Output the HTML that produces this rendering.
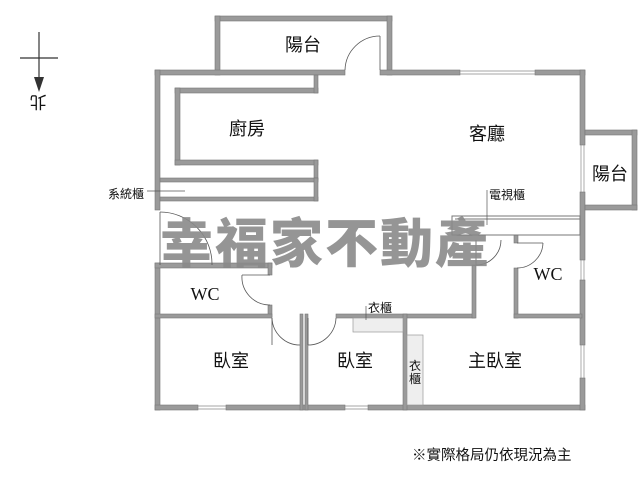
<!DOCTYPE html>
<html><head><meta charset="utf-8"><style>
html,body{margin:0;padding:0;background:#fff;width:640px;height:480px;overflow:hidden}
svg{display:block}
text{font-family:"Liberation Serif","Noto Sans CJK TC",sans-serif;fill:#111}
</style></head><body>
<svg width="640" height="480" viewBox="0 0 640 480" xmlns="http://www.w3.org/2000/svg">
<g fill="#9a9a9a" stroke="#777" stroke-width="0.6">
<rect x="215" y="16" width="177" height="5"/>
<rect x="215" y="16" width="5" height="59"/>
<rect x="387" y="16" width="5" height="59"/>
<rect x="155" y="70" width="190" height="5"/>
<rect x="380" y="70" width="80" height="5"/>
<rect x="535" y="70" width="50" height="5"/>
<rect x="155" y="70" width="5" height="140"/>
<rect x="155" y="263" width="5" height="147"/>
<rect x="155" y="405" width="43" height="5"/>
<rect x="226" y="405" width="119" height="5"/>
<rect x="368" y="405" width="217" height="5"/>
<rect x="580" y="70" width="5" height="75"/>
<rect x="580" y="192" width="5" height="68"/>
<rect x="580" y="280" width="5" height="65"/>
<rect x="580" y="378" width="5" height="32"/>
<rect x="585" y="130" width="52" height="5"/>
<rect x="632" y="130" width="5" height="80"/>
<rect x="585" y="205" width="52" height="5"/>
<rect x="175" y="88" width="143" height="5"/>
<rect x="175" y="88" width="5" height="77"/>
<rect x="175" y="160" width="143" height="5"/>
<rect x="314" y="75" width="4" height="18"/>
<rect x="314" y="160" width="4" height="20"/>
<rect x="160" y="178" width="158" height="4"/>
<rect x="160" y="197" width="158" height="4"/>
<rect x="314" y="178" width="4" height="23"/>
<rect x="155" y="263" width="117" height="5"/>
<rect x="268" y="263" width="4" height="12"/>
<rect x="268" y="305" width="4" height="12"/>
<rect x="155" y="314" width="117" height="4"/>
<rect x="300" y="314" width="3" height="96"/>
<rect x="305" y="314" width="3" height="96"/>
<rect x="336" y="314" width="139" height="4"/>
<rect x="403" y="314" width="4" height="96"/>
<rect x="472" y="265" width="4" height="53"/>
<rect x="514" y="235" width="4" height="8"/>
<rect x="514" y="268" width="4" height="50"/>
<rect x="514" y="314" width="68" height="4"/>
</g>
<g stroke="#888" stroke-width="0.7" fill="none">
<line x1="460" y1="71" x2="535" y2="71"/><line x1="460" y1="74" x2="535" y2="74"/>
<line x1="581" y1="145" x2="581" y2="192"/><line x1="584" y1="145" x2="584" y2="192"/>
<line x1="581" y1="260" x2="581" y2="280"/><line x1="584" y1="260" x2="584" y2="280"/>
<line x1="581" y1="345" x2="581" y2="378"/><line x1="584" y1="345" x2="584" y2="378"/>
<line x1="198" y1="406" x2="226" y2="406"/><line x1="198" y1="409" x2="226" y2="409"/>
<line x1="345" y1="406" x2="368" y2="406"/><line x1="345" y1="409" x2="368" y2="409"/>
</g>
<rect x="353" y="318" width="50" height="14" fill="#eee" stroke="#999" stroke-width="0.7"/>
<rect x="407" y="335" width="16" height="70" fill="#eee" stroke="#999" stroke-width="0.7"/>
<rect x="452" y="216" width="128" height="19" fill="none" stroke="#777" stroke-width="1"/>
<line x1="455" y1="219" x2="580" y2="219" stroke="#777" stroke-width="1"/>
<g stroke="#555" stroke-width="0.8" fill="none">
<line x1="380" y1="36" x2="380" y2="70"/><path d="M380 36 A35 35 0 0 0 345 70"/>
<line x1="160" y1="212" x2="160" y2="265"/><path d="M160 212 A52 52 0 0 1 212 265" />
<line x1="270" y1="275" x2="242" y2="275"/><path d="M242 275 A28 28 0 0 0 270 305"/>
<line x1="272" y1="318" x2="272" y2="345"/><path d="M272 318 A28 28 0 0 0 300 345"/>
<line x1="308" y1="345" x2="308" y2="318"/><path d="M308 345 A28 28 0 0 0 336 318"/>
<line x1="476" y1="265" x2="476" y2="240"/><path d="M476 265 A25 25 0 0 0 501 240"/>
<line x1="517" y1="243" x2="543" y2="243"/><path d="M543 243 A26 26 0 0 1 517 268"/>
</g>
<g stroke="#555" stroke-width="0.7">
<line x1="147" y1="191" x2="185" y2="191"/>
<line x1="487" y1="190" x2="487" y2="225"/>
<line x1="366" y1="306" x2="366" y2="320"/>
</g>
<text x="160" y="262" font-weight="900" font-size="53" style="fill:#8a8a8a;font-family:'Noto Sans CJK TC','WenQuanYi Zen Hei',sans-serif" opacity="0.9" letter-spacing="2">幸福家不動產</text>
<g stroke="#333" stroke-width="1.2">
<line x1="39" y1="32" x2="39" y2="82"/><line x1="20" y1="58" x2="58" y2="58"/>
</g>
<polygon points="34,77 44,77 39,92" fill="#333"/>
<text x="38" y="102" font-size="17" text-anchor="middle" transform="rotate(180 38 102)" dy="6">北</text>
<g font-size="18" text-anchor="middle">
<text x="303" y="51">陽台</text>
<text x="247" y="135">廚房</text>
<text x="487" y="140">客廳</text>
<text x="610" y="180">陽台</text>
<text x="231" y="367">臥室</text>
<text x="355" y="367">臥室</text>
<text x="495" y="367">主臥室</text>
<text x="205" y="300">WC</text>
<text x="548" y="280">WC</text>
</g>
<g font-size="12">
<text x="108" y="198">系統櫃</text>
<text x="489" y="199">電視櫃</text>
<text x="368" y="312">衣櫃</text>
<text x="409" y="370">衣</text>
<text x="409" y="383">櫃</text>
<text x="412" y="460" font-size="14.5">※實際格局仍依現況為主</text>
</g>
</svg>
</body></html>
